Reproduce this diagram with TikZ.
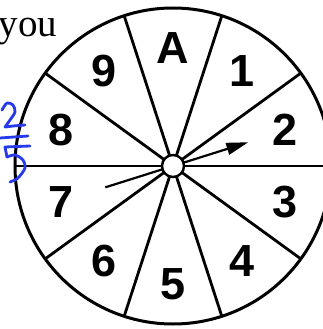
\documentclass[tikz,border=0pt]{standalone}
\usepackage{fontspec}
\setsansfont{Liberation Sans}
\newfontfamily\youfont{Liberation Serif}
\usetikzlibrary{arrows.meta}
\definecolor{pen}{RGB}{38,58,235}

\begin{document}
\begin{tikzpicture}[x=1pt, y=1pt, line width=3pt,
  sector/.style={font=\sffamily\bfseries\fontsize{45}{45}\selectfont, inner sep=0pt},
  spoke/.style={line width=2.8pt},
  hub/.style={circle, draw, fill=white, line width=2.4pt, minimum size=22pt, inner sep=0pt},
  needle/.style={-{Triangle[length=22pt, width=12pt]}, line width=2.2pt},
  ink/.style={draw=pen, line width=2.8pt, line cap=round, line join=round}]
\clip (-173,-163) rectangle (150,166);
\fill[white] (-173,-163) rectangle (150,166);
% spinner
\draw (0,0) circle (158);
\foreach \a in {0,36,...,324} \draw[spoke] (0,0) -- (\a:158);
\foreach \lbl [count=\i from 0] in {2,1,A,9,8,7,6,5,4,3}
  \node[sector] (s\lbl) at (18+36*\i:118) {\lbl};
\coordinate (tail) at (197.5:71);
\coordinate (tip) at (17.5:79);
\draw[needle] (tail) -- (tip);
\node[hub] (hub) at (0,0) {};
% text cut at the page edge
\node[font=\youfont\fontsize{39}{39}\selectfont, anchor=base east, inner sep=0pt] (you) at (-114,129) {you};
% handwritten 2/5
\draw[ink] plot[smooth] coordinates {(-171,56) (-166,63) (-160,61) (-158,54) (-163,46) (-168,39)}
  -- (-160,40) -- (-148,41);
\draw[ink] (-173,28) -- (-145,30);
\draw[ink] (-143,20) -- (-168,19) -- (-166,9);
\draw[ink] plot[smooth] coordinates {(-166,9) (-158,11) (-150,6) (-148,-2) (-155,-12) (-163,-16)};
\end{tikzpicture}
\end{document}
